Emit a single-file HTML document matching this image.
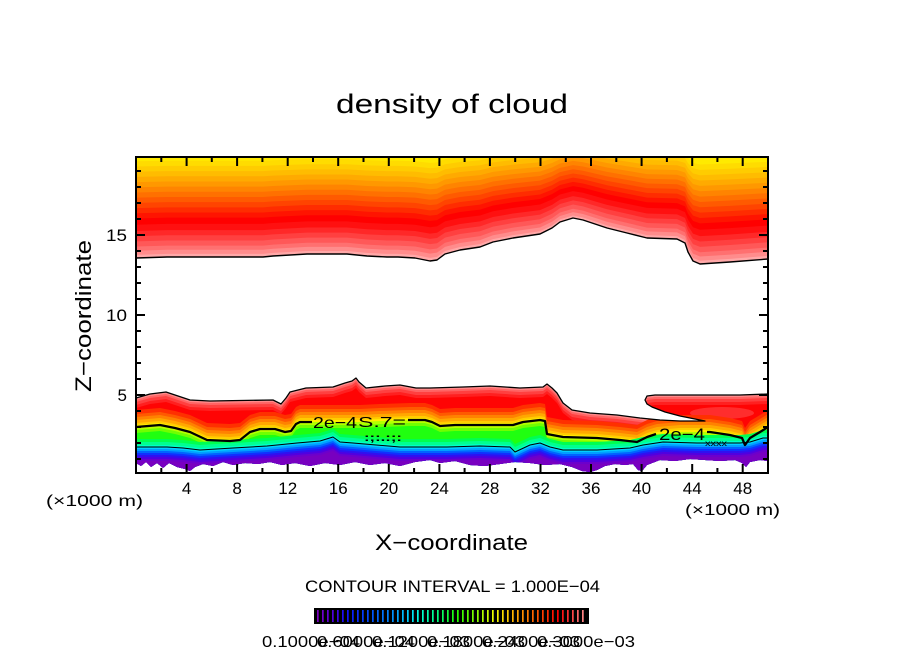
<!DOCTYPE html>
<html><head><meta charset="utf-8"><style>html,body{margin:0;padding:0;background:#fff}svg{display:block}</style></head>
<body>
<svg width="904" height="654" viewBox="0 0 904 654" xmlns="http://www.w3.org/2000/svg" font-family="'Liberation Sans', sans-serif">
<defs>
<clipPath id="plot"><rect x="136" y="157" width="632" height="316"/></clipPath>
<path id="U" d="M136,150 L768,150 L768,259 L730,262 L700,264 L693,261 L688,252 L685,243 L677,239 L647,238 L627,233 L607,228 L583,220 L573,218 L560,222 L552,228 L540,234 L513,238 L493,242 L480,247 L460,250 L445,254 L437,260 L430,261 L415,258 L398,257 L387,257 L367,256 L347,254 L307,254 L273,256 L263,257 L167,257 L136,258 Z"/>
<path id="A" d="M136,398 L150,394 L166,392 L178,396 L190,400 L210,401 L273,400 L281,404 L286,398 L290,392 L306,388 L333,387 L345,383 L352,381 L356,378 L359,382 L366,388 L385,386 L400,385 L416,388 L430,388 L463,387 L490,386 L520,388 L543,387 L547,384 L552,388 L557,393 L563,403 L572,410 L590,413 L617,415 L640,418 L660,420 L680,421 L705,421 L690,418 L680,416 L665,412 L652,407 L647,404 L645,400 L647,396 L655,395 L700,395 L740,395 L768,394 L768,461 L760,460 L750,462 L746,467 L742,463 L735,460 L720,461 L705,460 L690,459 L675,461 L660,460 L647,465 L642,471 L638,470 L633,464 L625,465 L615,464 L605,466 L597,470 L590,472 L582,471 L572,467 L560,464 L545,465 L530,463 L515,462 L500,464 L485,466 L470,465 L455,461 L440,463 L430,460 L415,462 L400,466 L385,463 L370,465 L355,462 L340,465 L325,463 L310,466 L295,463 L282,465 L270,462 L258,464 L245,463 L233,465 L223,462 L213,466 L203,464 L195,467 L190,471 L185,469 L177,467 L169,463 L163,468 L157,463 L151,467 L146,462 L141,466 L136,463 Z"/>
<clipPath id="band"><path d="M136,398 L150,394 L166,392 L178,396 L190,400 L210,401 L273,400 L281,404 L286,398 L290,392 L306,388 L333,387 L345,383 L352,381 L356,378 L359,382 L366,388 L385,386 L400,385 L416,388 L430,388 L463,387 L490,386 L520,388 L543,387 L547,384 L552,388 L557,393 L563,403 L572,410 L590,413 L617,415 L640,418 L660,420 L680,421 L705,421 L690,418 L680,416 L665,412 L652,407 L647,404 L645,400 L647,396 L655,395 L700,395 L740,395 L768,394 L768,461 L760,460 L750,462 L746,467 L742,463 L735,460 L720,461 L705,460 L690,459 L675,461 L660,460 L647,465 L642,471 L638,470 L633,464 L625,465 L615,464 L605,466 L597,470 L590,472 L582,471 L572,467 L560,464 L545,465 L530,463 L515,462 L500,464 L485,466 L470,465 L455,461 L440,463 L430,460 L415,462 L400,466 L385,463 L370,465 L355,462 L340,465 L325,463 L310,466 L295,463 L282,465 L270,462 L258,464 L245,463 L233,465 L223,462 L213,466 L203,464 L195,467 L190,471 L185,469 L177,467 L169,463 L163,468 L157,463 L151,467 L146,462 L141,466 L136,463 Z"/></clipPath>
<path id="BC" d="M136,427 L160,425 L175,428 L190,432 L207,440 L230,441 L240,440 L245,436 L250,432 L260,429 L275,429 L285,432 L291,431 L296,424 L300,422 L313,422 L340,422 L360,422 L380,421 L410,420 L425,420 L432,422 L440,426 L455,425 L480,425 L513,425 L523,422 L540,420 L545,421 L547,434 L563,437 L597,438 L620,440 L637,442 L647,437 L657,434 L680,432 L710,432 L730,435 L742,438 L745,445 L750,438 L760,432 L768,427 L768,500 L136,500 Z"/>
<path id="BD" d="M136,447 L167,447 L183,448 L200,450 L233,448 L267,446 L297,443 L320,441 L333,437 L340,442 L353,443 L400,447 L433,447 L447,447 L480,446 L510,447 L515,452 L530,445 L540,443 L550,447 L563,450 L597,450 L630,448 L643,445 L663,442 L697,443 L720,443 L740,443 L750,442 L763,438 L768,438 L768,500 L136,500 Z"/>
<linearGradient id="cbg" gradientUnits="userSpaceOnUse" x1="317" y1="0" x2="585" y2="0">
<stop offset="0" stop-color="#8000c0"/><stop offset="0.06" stop-color="#5000e0"/><stop offset="0.11" stop-color="#1010ff"/><stop offset="0.2" stop-color="#0050ff"/><stop offset="0.28" stop-color="#0090ff"/><stop offset="0.34" stop-color="#00d0ff"/><stop offset="0.38" stop-color="#00ffe0"/><stop offset="0.45" stop-color="#00ff80"/><stop offset="0.52" stop-color="#20ff00"/><stop offset="0.6" stop-color="#90ff00"/><stop offset="0.66" stop-color="#f0ff00"/><stop offset="0.72" stop-color="#ffc000"/><stop offset="0.78" stop-color="#ff8000"/><stop offset="0.84" stop-color="#ff4000"/><stop offset="0.9" stop-color="#ff0000"/><stop offset="0.95" stop-color="#ff4040"/><stop offset="1" stop-color="#ff9090"/>
</linearGradient>
<pattern id="stripes" patternUnits="userSpaceOnUse" x="317" y="0" width="5" height="654"><rect x="1.7" y="0" width="3.3" height="654" fill="#000"/></pattern>
</defs>

<rect width="904" height="654" fill="#fff"/>

<!-- top cloud band -->
<g clip-path="url(#plot)">
<use href="#U" fill="#ffa8a8"/>
<use href="#U" fill="#ff8c8c" transform="matrix(1 0 0 0.985 0 0.75)"/>
<use href="#U" fill="#ff7070" transform="matrix(1 0 0 0.965 0 1.75)"/>
<use href="#U" fill="#ff5858" transform="matrix(1 0 0 0.945 0 2.75)"/>
<use href="#U" fill="#ff4040" transform="matrix(1 0 0 0.92 0 4)"/>
<use href="#U" fill="#ff2828" transform="matrix(1 0 0 0.895 0 5.25)"/>
<use href="#U" fill="#ff1010" transform="matrix(1 0 0 0.87 0 6.5)"/>
<use href="#U" fill="#ff0000" transform="matrix(1 0 0 0.84 0 8)"/>
<use href="#U" fill="#ff1400" transform="matrix(1 0 0 0.81 0 9.5)"/>
<use href="#U" fill="#ff2c00" transform="matrix(1 0 0 0.785 0 10.75)"/>
<use href="#U" fill="#ff4400" transform="matrix(1 0 0 0.76 0 12)"/>
<use href="#U" fill="#ff5a00" transform="matrix(1 0 0 0.735 0 13.25)"/>
<use href="#U" fill="#ff7000" transform="matrix(1 0 0 0.71 0 14.5)"/>
<use href="#U" fill="#ff8400" transform="matrix(1 0 0 0.685 0 15.75)"/>
<use href="#U" fill="#ff9800" transform="matrix(1 0 0 0.66 0 17)"/>
<use href="#U" fill="#ffaa00" transform="matrix(1 0 0 0.635 0 18.25)"/>
<use href="#U" fill="#ffbc00" transform="matrix(1 0 0 0.61 0 19.5)"/>
<use href="#U" fill="#ffcc00" transform="matrix(1 0 0 0.585 0 20.75)"/>
<use href="#U" fill="#ffdc00" transform="matrix(1 0 0 0.56 0 22)"/>
<use href="#U" fill="#ffea00" transform="matrix(1 0 0 0.535 0 23.25)"/>
</g>

<!-- lower cloud band -->
<g clip-path="url(#band)">
<use href="#A" fill="#ff8a8a"/>
<use href="#A" fill="#ff6464" transform="translate(0,2)"/>
<use href="#A" fill="#ff4040" transform="translate(0,4)"/>
<use href="#A" fill="#ff2020" transform="translate(0,7)"/>
<use href="#A" fill="#ff0404" transform="translate(0,10)"/>
<ellipse cx="722" cy="413" rx="32" ry="6" fill="#ff6060" opacity="0.45"/>
<use href="#BC" fill="#ff3000" transform="translate(0,-17)"/>
<use href="#BC" fill="#ff5a00" transform="translate(0,-13)"/>
<use href="#BC" fill="#ff8200" transform="translate(0,-10)"/>
<use href="#BC" fill="#ffa800" transform="translate(0,-7)"/>
<use href="#BC" fill="#ffcc00" transform="translate(0,-4)"/>
<use href="#BC" fill="#ffee00" transform="translate(0,-2)"/>
<use href="#BC" fill="#b4ff00"/>
<use href="#BC" fill="#70ff00" transform="translate(0,3)"/>
<use href="#BC" fill="#20ff10" transform="translate(0,6)"/>
<use href="#BD" fill="#00ff50" transform="translate(0,-8)"/>
<use href="#BD" fill="#00ff90" transform="translate(0,-5)"/>
<use href="#BD" fill="#00ffc8" transform="translate(0,-2)"/>
<use href="#BD" fill="#00d0ff"/>
<use href="#BD" fill="#00a0ff" transform="translate(0,2)"/>
<use href="#BD" fill="#0064ff" transform="translate(0,4)"/>
<use href="#BD" fill="#1030ff" transform="translate(0,6)"/>
<use href="#BD" fill="#3010f0" transform="translate(0,8)"/>
<use href="#BD" fill="#5000e0" transform="translate(0,10)"/>
<use href="#BD" fill="#6c00cc" transform="translate(0,12)"/>
<use href="#BD" fill="#7800c0" transform="translate(0,14)"/>
</g>

<!-- contour lines -->
<g fill="none" stroke="#000" stroke-linejoin="round">
<path stroke-width="1.4" d="M136,258 L167,257 L263,257 L273,256 L307,254 L347,254 L367,256 L387,257 L398,257 L415,258 L430,261 L437,260 L445,254 L460,250 L480,247 L493,242 L513,238 L540,234 L552,228 L560,222 L573,218 L583,220 L607,228 L627,233 L647,238 L677,239 L685,243 L688,252 L693,261 L700,264 L730,262 L768,259"/>
<path stroke-width="1.3" d="M136,398 L150,394 L166,392 L178,396 L190,400 L210,401 L273,400 L281,404 L286,398 L290,392 L306,388 L333,387 L345,383 L352,381 L356,378 L359,382 L366,388 L385,386 L400,385 L416,388 L430,388 L463,387 L490,386 L520,388 L543,387 L547,384 L552,388 L557,393 L563,403 L572,410 L590,413 L617,415 L640,418 L660,420 L680,421 L705,421 L690,418 L680,416 L665,412 L652,407 L647,404 L645,400 L647,396 L655,395 L700,395 L740,395 L768,394"/>
<path stroke-width="2.3" d="M136,427 L160,425 L175,428 L190,432 L207,440 L230,441 L240,440 L245,436 L250,432 L260,429 L275,429 L285,432 L291,431 L296,424 L300,422 L312,422"/>
<path stroke-width="2.3" d="M408,420 L410,420 L425,420 L432,422 L440,426 L455,425 L480,425 L513,425 L523,422 L540,420 L545,421 L547,434 L563,437 L597,438 L620,440 L637,442 L647,437 L656,434"/>
<path stroke-width="2.3" d="M707,432 L710,432 L730,435 L742,438 L745,445 L750,438 L760,432 L768,427"/>
<path stroke-width="1" d="M136,447 L167,447 L183,448 L200,450 L233,448 L267,446 L297,443 L320,441 L333,437 L340,442 L353,443 L400,447 L433,447 L447,447 L480,446 L510,447 L515,452 L530,445 L540,443 L550,447 L563,450 L597,450 L630,448 L643,445 L663,442 L697,443 L720,443 L740,443 L750,442 L763,438 L768,438"/>
</g>
<text x="313" y="428" font-size="16" textLength="44" lengthAdjust="spacingAndGlyphs">2e−4</text>
<text x="358" y="427" font-size="15" textLength="48" lengthAdjust="spacingAndGlyphs">S.7=</text>
<text x="364" y="441" font-size="11" font-weight="bold" textLength="38" lengthAdjust="spacingAndGlyphs">:;:.:;:</text>
<text x="659" y="440" font-size="17" textLength="46" lengthAdjust="spacingAndGlyphs">2e−4</text>
<text x="705" y="446" font-size="8" textLength="22" lengthAdjust="spacingAndGlyphs">xxxx</text>

<!-- frame and ticks -->
<rect x="136" y="157" width="632" height="316" fill="none" stroke="#000" stroke-width="2"/>
<path fill="none" stroke="#000" stroke-width="2" d="
M136,395h9 M136,315h9 M136,235h9
M136,459h5 M136,443h5 M136,427h5 M136,411h5 M136,379h5 M136,363h5 M136,347h5 M136,331h5 M136,299h5 M136,283h5 M136,267h5 M136,251h5 M136,219h5 M136,203h5 M136,187h5 M136,171h5
M768,395h-9 M768,315h-9 M768,235h-9
M768,459h-5 M768,443h-5 M768,427h-5 M768,411h-5 M768,379h-5 M768,363h-5 M768,347h-5 M768,331h-5 M768,299h-5 M768,283h-5 M768,267h-5 M768,251h-5 M768,219h-5 M768,203h-5 M768,187h-5 M768,171h-5
M186.6,473v-9 M237.1,473v-9 M287.7,473v-9 M338.2,473v-9 M388.8,473v-9 M439.4,473v-9 M489.9,473v-9 M540.5,473v-9 M591,473v-9 M641.6,473v-9 M692.2,473v-9 M742.7,473v-9
M161.3,473v-5 M211.8,473v-5 M262.4,473v-5 M313,473v-5 M363.5,473v-5 M414.1,473v-5 M464.6,473v-5 M515.2,473v-5 M565.8,473v-5 M616.3,473v-5 M666.9,473v-5 M717.4,473v-5
M186.6,157v9 M237.1,157v9 M287.7,157v9 M338.2,157v9 M388.8,157v9 M439.4,157v9 M489.9,157v9 M540.5,157v9 M591,157v9 M641.6,157v9 M692.2,157v9 M742.7,157v9
M161.3,157v5 M211.8,157v5 M262.4,157v5 M313,157v5 M363.5,157v5 M414.1,157v5 M464.6,157v5 M515.2,157v5 M565.8,157v5 M616.3,157v5 M666.9,157v5 M717.4,157v5"/>

<!-- tick labels -->
<g font-size="17" fill="#000">
<text x="127" y="241" text-anchor="end" textLength="21" lengthAdjust="spacingAndGlyphs">15</text>
<text x="127" y="321" text-anchor="end" textLength="21" lengthAdjust="spacingAndGlyphs">10</text>
<text x="127" y="401" text-anchor="end">5</text>
</g>
<g font-size="17" fill="#000" text-anchor="middle">
<text x="186.6" y="494">4</text>
<text x="237.1" y="494">8</text>
<text x="287.7" y="494">12</text>
<text x="338.2" y="494">16</text>
<text x="388.8" y="494">20</text>
<text x="439.4" y="494">24</text>
<text x="489.9" y="494">28</text>
<text x="540.5" y="494">32</text>
<text x="591" y="494">36</text>
<text x="641.6" y="494">40</text>
<text x="692.2" y="494">44</text>
<text x="742.7" y="494">48</text>
</g>
<text x="46" y="506" font-size="16" textLength="97" lengthAdjust="spacingAndGlyphs">(×1000 m)</text>
<text x="685" y="515" font-size="16" textLength="95" lengthAdjust="spacingAndGlyphs">(×1000 m)</text>

<!-- titles -->
<text x="336" y="113" font-size="27" textLength="232" lengthAdjust="spacingAndGlyphs">density of cloud</text>
<text x="375" y="550" font-size="22" textLength="153" lengthAdjust="spacingAndGlyphs">X−coordinate</text>
<text transform="translate(91,316) rotate(-90)" text-anchor="middle" font-size="22" textLength="152" lengthAdjust="spacingAndGlyphs">Z−coordinate</text>
<text x="305" y="592" font-size="17" textLength="295" lengthAdjust="spacingAndGlyphs">CONTOUR INTERVAL = 1.000E−04</text>

<!-- colorbar -->
<rect x="314" y="608" width="275" height="16" fill="#000"/>
<rect x="317" y="610" width="268" height="12" fill="url(#cbg)"/>
<rect x="317" y="610" width="268" height="12" fill="url(#stripes)"/>
<g font-size="16" fill="#000">
<text x="262" y="647" textLength="98" lengthAdjust="spacingAndGlyphs">0.1000e−04</text>
<text x="317" y="647" textLength="98" lengthAdjust="spacingAndGlyphs">0.6000e−04</text>
<text x="372" y="647" textLength="98" lengthAdjust="spacingAndGlyphs">0.1200e−03</text>
<text x="427" y="647" textLength="98" lengthAdjust="spacingAndGlyphs">0.1800e−03</text>
<text x="482" y="647" textLength="98" lengthAdjust="spacingAndGlyphs">0.2400e−03</text>
<text x="537" y="647" textLength="98" lengthAdjust="spacingAndGlyphs">0.3000e−03</text>
</g>
</svg>
</body></html>
